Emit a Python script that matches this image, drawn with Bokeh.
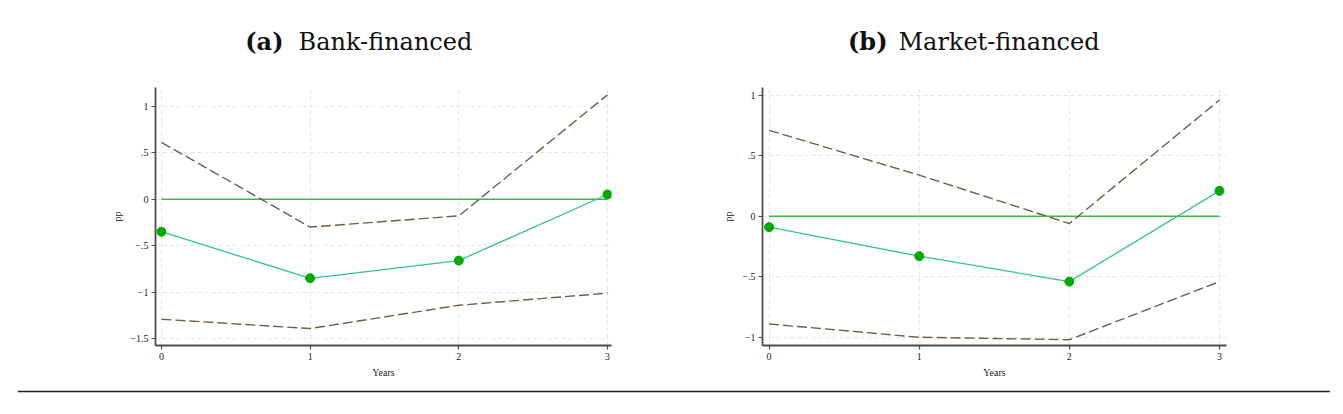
from bokeh.plotting import figure
from bokeh.layouts import row, column
from bokeh.models import Range1d, FixedTicker, Label, Span
from bokeh.embed import file_html
from bokeh.resources import INLINE

# ---------------- data ----------------
years = [0, 1, 2, 3]

bank_est = [-0.35, -0.85, -0.66, 0.05]
bank_upper = [0.61, -0.30, -0.18, 1.12]
bank_lower = [-1.29, -1.39, -1.14, -1.01]

mkt_est = [-0.09, -0.33, -0.54, 0.21]
mkt_upper = [0.71, 0.34, -0.06, 0.96]
mkt_lower = [-0.89, -1.00, -1.02, -0.54]

bank_yticks = [-1.5, -1, -0.5, 0, 0.5, 1]
bank_ylabels = ["\u22121.5", "\u22121", "\u2212.5", "0", ".5", "1"]
mkt_yticks = [-1, -0.5, 0, 0.5, 1]
mkt_ylabels = ["\u22121", "\u2212.5", "0", ".5", "1"]
xticks = [0, 1, 2, 3]

panel_tags = ["(a)", "(b)"]
panel_names = ["Bank-financed", "Market-financed"]
x_title = "Years"
y_title = "pp"

# ---------------- style ----------------
AXIS_C = "#4d4d4d"
GRID_C = "#e4e4e4"
CI_C = "#6e5f48"
EST_LINE_C = "#33c48f"
MARK_C = "#00aa00"
ZERO_C = "#3cba3c"
SERIF = "Liberation Serif"
TITLE_FONT = "DejaVu Serif"
HEADER_H = 70


def make_header(width, tag, name, tag_right, name_left):
    h = figure(width=width, height=HEADER_H, output_backend="svg",
               toolbar_location=None, x_range=Range1d(0, width),
               y_range=Range1d(0, HEADER_H), x_axis_location=None,
               y_axis_location=None, min_border=0)
    h.outline_line_color = None
    h.xgrid.visible = False
    h.ygrid.visible = False
    h.add_layout(Label(x=tag_right, y=HEADER_H - 33, text=tag,
                       text_font=TITLE_FONT, text_font_size="24px",
                       text_font_style="bold", text_align="right",
                       text_baseline="middle", text_color="#111111"))
    h.add_layout(Label(x=name_left, y=HEADER_H - 33, text=name,
                       text_font=TITLE_FONT, text_font_size="24px",
                       text_align="left", text_baseline="middle",
                       text_color="#111111"))
    return h


def make_panel(est, upper, lower, yticks, ylabels, xr, yr, width,
               bl, br, ylab_standoff):
    p = figure(width=width, height=308, output_backend="svg",
               toolbar_location=None, x_range=Range1d(*xr),
               y_range=Range1d(*yr), min_border_left=bl,
               min_border_right=br, min_border_top=9,
               min_border_bottom=41)
    p.outline_line_color = None
    p.background_fill_color = "white"
    p.border_fill_color = "white"

    for g in (p.xgrid, p.ygrid):
        g.grid_line_color = GRID_C
        g.grid_line_dash = "4 3"
        g.grid_line_width = 1
    p.xgrid.ticker = FixedTicker(ticks=xticks)
    p.ygrid.ticker = FixedTicker(ticks=yticks)

    p.xaxis.ticker = FixedTicker(ticks=xticks)
    p.yaxis.ticker = FixedTicker(ticks=yticks)
    p.yaxis.major_label_overrides = {t: l for t, l in zip(yticks, ylabels)}
    p.xaxis.major_label_overrides = {t: str(t) for t in xticks}
    for ax in (p.xaxis, p.yaxis):
        ax.axis_line_color = AXIS_C
        ax.axis_line_width = 1.8
        ax.major_tick_line_color = AXIS_C
        ax.major_tick_line_width = 1.2
        ax.major_tick_out = 4
        ax.major_tick_in = 0
        ax.minor_tick_line_color = None
        ax.major_label_text_font = SERIF
        ax.major_label_text_font_size = "10px"
        ax.major_label_text_color = "#222222"
        ax.axis_label_text_font = SERIF
        ax.axis_label_text_font_size = "10px"
        ax.axis_label_text_font_style = "normal"
        ax.axis_label_text_color = "#222222"
        ax.major_label_standoff = 3
    p.xaxis.axis_label = x_title
    p.yaxis.axis_label = y_title
    p.xaxis.axis_label_standoff = 4
    p.yaxis.axis_label_standoff = ylab_standoff

    p.line([years[0], years[-1]], [0, 0], line_color=ZERO_C, line_width=1.5)
    p.line(years, upper, line_color=CI_C, line_width=1.4, line_dash="10 4")
    p.line(years, lower, line_color=CI_C, line_width=1.4, line_dash="10 4")
    p.line(years, est, line_color=EST_LINE_C, line_width=1.3)
    p.scatter(years, est, size=9, fill_color=MARK_C, line_color=MARK_C)
    return p


ha = make_header(672, panel_tags[0], panel_names[0], 275, 290)
hb = make_header(655, panel_tags[1], panel_names[1], 207, 218)

pa = make_panel(bank_est, bank_upper, bank_lower, bank_yticks, bank_ylabels,
                (-0.04, 3.027), (-1.572, 1.199), 672, 147, 69, 4)
pb = make_panel(mkt_est, mkt_upper, mkt_lower, mkt_yticks, mkt_ylabels,
                (-0.044, 3.047), (-1.068, 1.064), 655, 82, 109, 5)

rule = figure(width=1313, height=9, output_backend="svg",
              toolbar_location=None, x_axis_location=None,
              y_axis_location=None, min_border=0,
              x_range=Range1d(0, 1), y_range=Range1d(0, 9),
              margin=(0, 0, 0, 9))
rule.outline_line_color = None
rule.xgrid.visible = False
rule.ygrid.visible = False
rule.add_layout(Span(location=7, dimension="width", line_color="#222222",
                     line_width=1.3))

layout = column(row(ha, hb), row(pa, pb), rule, margin=(8, 0, 0, 8))
open("out.html", "w").write(file_html(layout, INLINE))
